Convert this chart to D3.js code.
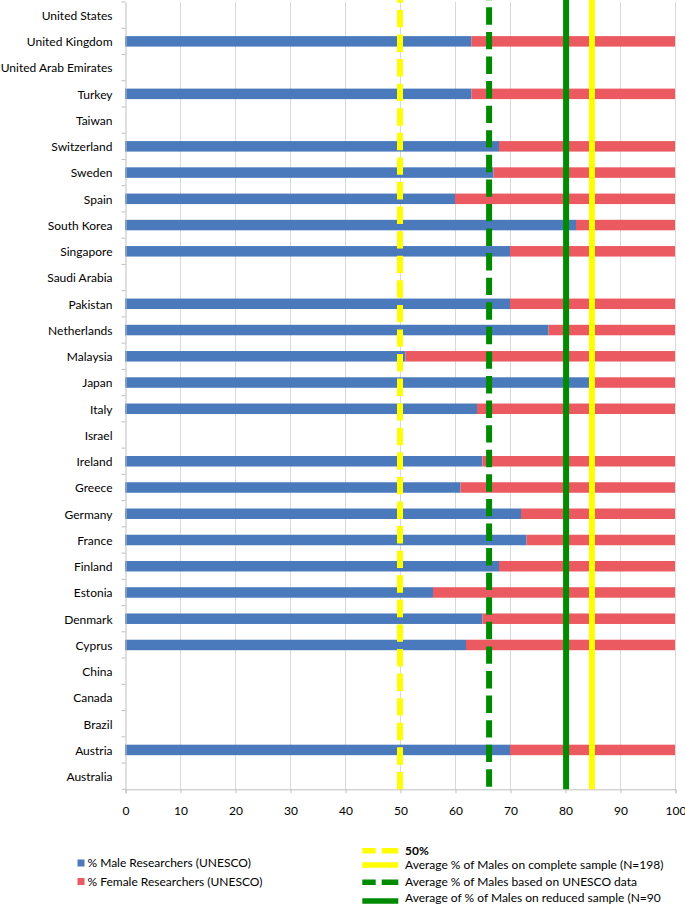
<!DOCTYPE html>
<html><head><meta charset="utf-8">
<script src="https://cdn.jsdelivr.net/npm/d3@7"></script>
<style>body{margin:0;background:#fff}svg{display:block}text{font-family:Lato,"Open Sans",sans-serif}</style>
</head><body><div id="chart"></div>
<script>
const categories = ["United States","United Kingdom","United Arab Emirates","Turkey","Taiwan","Switzerland","Sweden","Spain","South Korea","Singapore","Saudi Arabia","Pakistan","Netherlands","Malaysia","Japan","Italy","Israel","Ireland","Greece","Germany","France","Finland","Estonia","Denmark","Cyprus","China","Canada","Brazil","Austria","Australia"];
const maleValues = [null,63,null,63,null,68,67,60,82,70,null,70,77,51,85,64,null,65,61,72,73,68,56,65,62,null,null,null,70,null];
const femaleValues = maleValues.map(v => v == null ? null : 100 - v);
const xTicks = [0,10,20,30,40,50,60,70,80,90,100];
const refNames = ["50%","Average % of Males on complete sample (N=198)","Average % of Males based on UNESCO data","Average of % of Males on reduced sample (N=90"];
const refValues = [50, 84.9, 66.2, 80.2];
const refColors = ["#ffff00","#ffff00","#008a00","#008a00"];
const refDashed = [true,false,true,false];
const seriesNames = ["% Male Researchers (UNESCO)","% Female Researchers  (UNESCO)"];
const seriesColors = ["#4a7abc","#ea5a60"];

const W=685,H=904;
const svg=d3.select("#chart").append("svg").attr("width",W).attr("height",H);
const x=d3.scaleLinear().domain([0,100]).range([125,675]);
const y=d3.scaleBand().domain(categories).range([2,789.3]).paddingInner(0.6).paddingOuter(0.3);
const yBottom=y.range()[1];

// gridlines
svg.append("g").selectAll("line").data(xTicks.slice(1)).join("line")
  .attr("x1",d=>x(d)+0.5).attr("x2",d=>x(d)+0.5).attr("y1",y.range()[0]).attr("y2",yBottom)
  .attr("stroke","#d9d9d9").attr("stroke-width",1);

// bars
const rows=categories.map((c,i)=>({c,m:maleValues[i],f:femaleValues[i]})).filter(d=>d.m!=null);
svg.append("g").selectAll("rect").data(rows).join("rect")
  .attr("x",x(0)).attr("y",d=>y(d.c)).attr("width",d=>x(d.m)-x(0)).attr("height",y.bandwidth())
  .attr("fill",seriesColors[0]);
svg.append("g").selectAll("rect").data(rows).join("rect")
  .attr("x",d=>x(d.m)).attr("y",d=>y(d.c)).attr("width",d=>x(d.m+d.f)-x(d.m)).attr("height",y.bandwidth())
  .attr("fill",seriesColors[1]);

// x axis
const xAxis=svg.append("g").attr("transform",`translate(0.5,${yBottom})`)
  .call(d3.axisBottom(x).tickValues(xTicks).tickSize(4).tickPadding(13).tickFormat(d3.format("d")));
xAxis.select(".domain").attr("stroke","#bfbfbf");
xAxis.selectAll(".tick line").attr("stroke","#bfbfbf");
xAxis.selectAll("text").attr("font-size",12).attr("fill","#000");

// y axis
const yAxis=svg.append("g").attr("transform",`translate(${x(0)+0.5},0)`)
  .call(d3.axisLeft(y).tickSize(0).tickPadding(13));
yAxis.select(".domain").attr("stroke","#bfbfbf");
yAxis.selectAll("text").attr("font-size",12).attr("fill","#000").attr("dy","0.4em");
const bounds=d3.range(categories.length+1).map(i=>y.range()[0]+i*y.step());
svg.append("g").selectAll("line").data(bounds).join("line")
  .attr("x1",x(0)-3.5).attr("x2",x(0)+0.5).attr("y1",d=>d).attr("y2",d=>d).attr("stroke","#bfbfbf");

// reference lines (drawn from the axis upward)
const refs=refNames.map((n,i)=>({name:n,value:refValues[i],color:refColors[i],dashed:refDashed[i]}));
const drawOrder=[0,2,3,1];
svg.append("g").selectAll("line").data(drawOrder.map(i=>refs[i])).join("line")
  .attr("x1",d=>x(d.value)).attr("x2",d=>x(d.value)).attr("y1",yBottom).attr("y2",-20)
  .attr("stroke",d=>d.color).attr("stroke-width",6)
  .attr("stroke-dasharray",d=>d.dashed?"17.4,7.18":null)
  .attr("stroke-dashoffset",d=>d.dashed && d.color!=="#ffff00" ? 21.98 : 0);

// legend left
const lg=svg.append("g");
seriesNames.forEach((n,i)=>{
  const yy=863+i*18.5;
  lg.append("rect").attr("x",77.5).attr("y",yy-3.5).attr("width",7).attr("height",7).attr("fill",seriesColors[i]);
  lg.append("text").attr("x",87.5).attr("y",yy).attr("dy","0.35em").attr("font-size",12).text(n);
});
// legend right
const rl=[{i:0,ty:850.5,ly:850.7},{i:1,ty:865,ly:865},{i:2,ty:881.5,ly:882.3},{i:3,ty:897.3,ly:901}];
rl.forEach(r=>{
  const d=refs[r.i];
  lg.append("line").attr("x1",398.3).attr("x2",362.3).attr("y1",r.ly).attr("y2",r.ly)
    .attr("stroke",d.color).attr("stroke-width",5.5).attr("stroke-dasharray",d.dashed?"16.6,6":null);
  lg.append("text").attr("x",405).attr("y",r.ty).attr("dy","0.35em").attr("font-size",12)
    .attr("font-weight",r.i===0?"bold":null).text(d.name);
});
</script></body></html>
